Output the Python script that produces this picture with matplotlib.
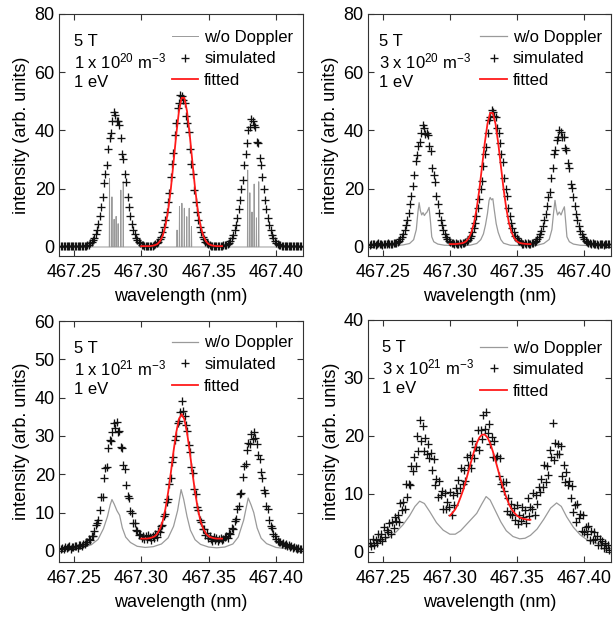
import matplotlib.pyplot as plt
import numpy as np
from matplotlib.ticker import FormatStrFormatter

plt.rcParams['font.family'] = ['Liberation Sans', 'DejaVu Sans']
plt.rcParams['mathtext.fontset'] = 'custom'
plt.rcParams['mathtext.rm'] = 'Liberation Sans'
plt.rcParams['mathtext.it'] = 'Liberation Sans:italic'
plt.rcParams['mathtext.bf'] = 'Liberation Sans:bold'

# sampling of the simulated spectra (nm)
wl_start = 467.2405
wl_step = 0.00103

# simulated spectra (arb. units), one value per sample
sim_1e20 = [0.3, 0.4, 0.2, 0.3, 0.4, 0.3, 0.2, 0.4, 0.3, 0.3, 0.2, 0.4, 0.3, 0.3, 0.4, 0.2, 0.3, 0.4, 0.3,
            0.6, 0.8, 1.2, 1.6, 2.3, 3.2, 4.4, 6.0, 8.0, 10.6, 13.6, 17.0, 21.9, 25.1, 28.1, 33.5, 37.3, 39.2,
            43.1, 46.2, 45.3, 43.2, 43.1, 41.8, 37.3, 31.9, 30.1, 25.1, 22.3, 17.0, 13.6, 10.6, 8.0, 6.0, 4.4,
            3.2, 2.3, 1.6, 1.2, 0.8, 0.6,
            0.4, 0.3, 0.4, 0.3, 0.4, 0.5, 0.4,
            0.7, 0.9, 1.3, 1.8, 2.6, 3.6, 5.0, 6.8, 9.2, 12.0, 15.5, 18.4, 23.9, 28.6, 32.2, 38.3, 42.7, 47.6,
            49.3, 52.3, 51.8, 50.4, 49.3, 45.1, 42.7, 39.5, 33.5, 28.6, 25.0, 19.5, 15.5, 12.0, 9.2, 6.8, 5.0,
            3.6, 2.6, 1.8, 1.3, 0.9, 0.7,
            0.4, 0.3, 0.5, 0.4, 0.3, 0.4, 0.3, 0.5, 0.4, 0.6,
            0.6, 0.8, 1.1, 1.5, 2.2, 3.1, 4.2, 5.8, 7.7, 10.1, 13.0, 16.3, 20.0, 23.0, 28.0, 32.0, 35.7, 40.0,
            41.2, 44.1, 43.3, 41.9, 41.2, 36.2, 35.7, 30.5, 28.0, 24.0, 20.0, 16.3, 13.0, 10.1, 7.7, 5.8, 4.2,
            3.1, 2.2, 1.5, 1.1, 0.8, 0.6,
            0.4, 0.3, 0.4, 0.3, 0.2, 0.4, 0.3, 0.3, 0.4, 0.2, 0.3, 0.4, 0.3, 0.2, 0.3]

sim_3e20 = [0.8, 1.0, 0.9, 1.1, 0.7, 1.0, 1.2, 0.9, 1.0, 0.8, 1.1, 1.0, 0.9, 1.2, 1.0, 1.1, 1.0, 1.3, 1.2,
            1.5, 1.8, 2.2, 2.8, 3.5, 4.5, 5.8, 7.4, 9.4, 11.8, 14.6, 17.6, 21.0, 24.6, 29.5, 31.5, 34.6, 36.0,
            39.3, 41.8, 41.0, 38.7, 39.3, 38.5, 34.6, 32.9, 27.0, 24.6, 22.3, 17.6, 14.6, 11.8, 9.4, 7.4, 5.8,
            4.5, 3.5, 2.8, 2.2, 1.8, 1.5,
            1.2, 1.0, 1.3, 1.1, 0.9, 1.2, 1.0, 1.3, 1.2,
            1.6, 1.9, 2.4, 3.0, 3.9, 5.0, 6.5, 8.3, 10.6, 13.3, 16.4, 19.9, 22.6, 27.8, 31.8, 34.4, 39.3, 43.5,
            44.6, 47.2, 46.5, 45.1, 44.6, 41.0, 39.3, 35.7, 31.8, 29.2, 23.8, 19.9, 17.5, 13.3, 10.6, 8.3, 6.5,
            5.0, 3.9, 3.0, 2.4, 1.9, 1.6,
            1.1, 0.9, 1.2, 1.0, 1.3, 1.1, 1.0, 1.2,
            1.5, 1.8, 2.2, 2.7, 3.4, 4.4, 5.6, 7.2, 9.1, 11.4, 14.1, 17.0, 18.9, 23.7, 27.1, 31.8, 33.4, 36.9,
            37.9, 40.2, 39.5, 37.6, 37.9, 34.0, 33.4, 28.9, 27.1, 21.5, 20.3, 17.0, 14.1, 11.4, 9.1, 7.2, 5.6,
            4.4, 3.4, 2.7, 2.2, 1.8, 1.5,
            1.3, 1.0, 1.2, 0.9, 1.1, 1.0, 0.8, 1.1, 0.9, 1.0, 0.8, 0.9, 1.0, 1.1, 0.9]

sim_1e21 = [0.5, 0.8, 0.4, 1.0, 0.7, 0.9, 1.3, 0.6, 1.1, 0.9, 1.4, 1.2, 0.8, 1.5,
            1.6, 1.3, 1.9, 1.7, 2.2,
            2.3, 3.1, 2.9, 3.8, 4.0, 5.3,
            6.8, 7.3, 8.1, 10.7, 14.0, 14.1, 18.9, 21.7, 22.0, 26.9, 29.0, 28.8, 31.0, 33.5, 32.2, 33.6, 30.9,
            31.4, 27.2, 26.9, 22.3, 21.4, 17.2, 14.2, 13.9, 10.3, 9.9, 7.3, 7.4, 5.5, 5.2, 4.1, 4.3, 3.4, 3.9,
            3.2,
            3.8, 3.1, 4.2, 3.5, 2.9, 3.9, 3.4,
            4.3, 3.7, 5.1, 4.8, 6.6, 6.7, 9.0, 9.6, 12.8, 13.5, 17.4, 19.0, 23.1, 24.6, 28.9, 30.1, 33.4, 34.0,
            36.2, 39.0, 36.5, 35.2, 32.9, 31.2, 27.6, 25.9, 21.8, 20.3, 16.2, 14.9, 11.5, 10.6, 8.1, 7.5, 5.8,
            5.6, 4.2, 4.7, 3.4, 4.0,
            3.1, 2.7, 3.5, 2.9, 3.3, 2.6, 3.0, 3.4, 2.8, 3.2, 3.5,
            3.9, 3.3, 4.6, 4.3, 5.9, 5.6, 7.9, 8.2, 10.9, 11.6, 14.8, 15.1, 19.4, 22.1, 22.6, 26.4, 28.1, 28.0,
            30.5, 29.3, 31.0, 29.4, 27.8, 24.9, 23.9, 20.5, 18.9, 16.0, 15.2, 11.8, 10.9, 8.0, 6.4, 5.9, 4.4,
            3.8, 3.1, 2.7, 2.4,
            2.3, 1.9, 2.1, 1.6, 1.8, 1.3, 1.5, 1.1, 1.2, 0.8, 1.0, 0.7, 0.5, 0.8, 0.4, 0.6]

sim_3e21 = [1.5, 0.9, 2.1, 1.2, 2.0, 1.4, 3.0, 2.2, 3.0, 1.9, 4.2, 2.6, 3.7, 3.3, 4.9, 3.0, 5.1, 4.1, 6.0,
            5.2, 6.4, 5.1, 8.4, 7.1, 8.5, 7.3, 11.6, 9.4, 11.7, 11.5, 14.8, 14.0, 16.4, 14.8, 20.0, 17.3, 22.7,
            19.1, 21.7, 17.3, 19.7, 16.9, 18.5, 16.2, 17.0, 14.1, 16.0, 11.5, 12.6, 9.4, 12.2, 9.7, 10.4, 7.3,
            10.1, 7.4, 8.6, 7.7, 10.3, 6.3, 9.7, 8.1, 11.0, 10.1, 12.3, 11.0, 14.5, 11.6, 14.1, 12.2, 16.3,
            14.9, 16.7, 14.5, 19.1, 16.2, 18.1, 18.0, 21.0, 17.5, 21.0, 19.4, 23.6, 21.1, 24.1, 20.5, 22.0,
            18.6, 19.8, 16.4, 19.1, 16.2, 16.5, 13.0, 16.1, 11.6, 12.1, 10.4, 12.0, 7.0, 9.2, 6.5, 8.2, 6.3,
            7.6, 5.4, 8.0, 4.8, 6.3, 5.2, 7.7, 5.9, 7.2, 4.9, 9.3, 6.1, 7.7, 7.3, 10.1, 6.4, 9.8, 8.2, 11.2,
            10.3, 12.6, 11.2, 14.9, 12.1, 14.8, 13.2, 17.5, 16.3, 22.2, 15.9, 18.7, 16.9, 18.5, 16.9, 18.3,
            13.1, 15.0, 12.1, 13.7, 11.5, 12.2, 9.3, 11.3, 6.9, 8.0, 5.1, 8.2, 5.8, 6.5, 3.5, 6.3, 3.4, 4.3,
            3.1, 4.4, 2.0, 3.5, 2.0, 3.4, 2.1, 2.7, 1.2, 2.2, 1.1, 1.9, 0.65, 1.4, 0.6, 1.15, 0.3]

# calculation without Doppler broadening
# 1e20: narrow Zeeman components (wavelength, height)
spike_wl = [467.2765, 467.2783, 467.2799, 467.2814, 467.2829, 467.2849, 467.2867,
            467.3266, 467.3284, 467.3302, 467.3320, 467.3338, 467.3356, 467.3373,
            467.3790, 467.3806, 467.3822, 467.3838, 467.3855, 467.3872]
spike_h = [23.5, 17.2, 9.5, 10.5, 8.0, 19.5, 22.4,
           5.8, 13.9, 15.0, 13.3, 10.4, 13.3, 7.0,
           26.4, 18.6, 12.0, 21.6, 10.0, 22.4]

nodop2_wl = [467.2390, 467.2550, 467.2650, 467.2700, 467.2730, 467.2750, 467.2762, 467.2771, 467.2780,
             467.2790, 467.2800, 467.2810, 467.2820, 467.2830, 467.2845, 467.2855, 467.2865, 467.2880,
             467.2910, 467.2960, 467.3050, 467.3150, 467.3200, 467.3230, 467.3250, 467.3265, 467.3280,
             467.3292, 467.3300, 467.3310, 467.3320, 467.3330, 467.3345, 467.3360, 467.3380, 467.3400,
             467.3450, 467.3600, 467.3650, 467.3700, 467.3740, 467.3760, 467.3773, 467.3783, 467.3792,
             467.3802, 467.3815, 467.3828, 467.3840, 467.3853, 467.3862, 467.3872, 467.3890, 467.3920,
             467.3970, 467.4100, 467.4200]
nodop2 = [0.3, 0.4, 0.7, 1.2, 2.5, 6.0, 12.0, 15.2, 12.5, 11.0, 11.8, 10.8, 11.5, 12.0, 13.6, 9.0, 3.5,
          1.8, 1.0, 0.6, 0.5, 0.6, 1.2, 2.5, 4.5, 7.5, 11.5, 16.0, 17.0, 16.2, 16.6, 13.0, 8.0, 5.0, 2.5,
          1.3, 0.6, 0.4, 0.6, 1.2, 2.6, 6.0, 12.0, 16.0, 13.0, 11.0, 12.0, 11.0, 12.5, 13.8, 9.0, 3.5, 1.8,
          1.0, 0.6, 0.4, 0.3]

nodop3_wl = [467.2390, 467.2500, 467.2580, 467.2630, 467.2680, 467.2720, 467.2750, 467.2770, 467.2783,
             467.2800, 467.2820, 467.2840, 467.2860, 467.2885, 467.2920, 467.2970, 467.3030, 467.3090,
             467.3150, 467.3200, 467.3240, 467.3270, 467.3296, 467.3315, 467.3340, 467.3365, 467.3400,
             467.3440, 467.3500, 467.3560, 467.3620, 467.3680, 467.3720, 467.3760, 467.3794, 467.3815,
             467.3835, 467.3860, 467.3890, 467.3930, 467.4000, 467.4100, 467.4200]
nodop3 = [0.4, 0.6, 1.0, 1.6, 3.0, 5.8, 9.0, 12.0, 13.4, 12.2, 10.5, 9.3, 6.0, 3.6, 2.2, 1.2, 0.9, 1.1,
          1.8, 3.4, 6.4, 10.5, 16.0, 13.5, 9.0, 5.4, 2.9, 1.7, 1.0, 0.8, 1.0, 1.8, 3.6, 8.0, 13.8, 12.0,
          10.0, 6.0, 3.3, 1.9, 0.9, 0.5, 0.35]

nodop4_wl = [467.2390, 467.2450, 467.2500, 467.2550, 467.2600, 467.2650, 467.2700, 467.2740, 467.2775,
             467.2810, 467.2850, 467.2900, 467.2950, 467.3000, 467.3040, 467.3080, 467.3120, 467.3160,
             467.3200, 467.3240, 467.3270, 467.3300, 467.3340, 467.3380, 467.3420, 467.3470, 467.3520,
             467.3560, 467.3600, 467.3650, 467.3700, 467.3750, 467.3795, 467.3830, 467.3870, 467.3920,
             467.3970, 467.4030, 467.4100, 467.4200]
nodop4 = [1.1, 1.4, 1.9, 2.5, 3.4, 4.6, 6.2, 7.8, 8.7, 8.3, 6.9, 5.0, 3.7, 3.0, 3.0, 3.6, 4.6, 5.6, 6.6,
          8.3, 9.5, 8.9, 7.0, 5.1, 3.6, 2.6, 2.2, 2.3, 2.8, 3.9, 5.6, 7.5, 8.4, 7.8, 6.0, 4.2, 2.9, 1.9,
          1.4, 1.0]

# fitted profiles, 467.300 - 467.360 nm in 0.002 nm steps
fit_wl = [467.300, 467.302, 467.304, 467.306, 467.308, 467.310, 467.312, 467.314, 467.316, 467.318,
          467.320, 467.322, 467.324, 467.326, 467.328, 467.330, 467.332, 467.334, 467.336, 467.338,
          467.340, 467.342, 467.344, 467.346, 467.348, 467.350, 467.352, 467.354, 467.356, 467.358, 467.360]
fit_1e20 = [0.3, 0.3, 0.3, 0.3, 0.4, 0.6, 1.0, 2.0, 3.9, 7.3, 12.6, 20.0, 29.1, 38.6, 46.6, 51.2, 51.2,
            46.6, 38.6, 29.1, 20.0, 12.6, 7.3, 3.9, 2.0, 1.0, 0.6, 0.4, 0.3, 0.3, 0.3]
fit_3e20 = [1.0, 1.0, 1.0, 1.1, 1.2, 1.4, 1.9, 3.0, 5.0, 8.3, 13.3, 19.9, 27.8, 35.7, 42.3, 46.0, 46.0,
            42.3, 35.7, 27.8, 19.9, 13.3, 8.3, 5.0, 3.0, 1.9, 1.4, 1.2, 1.1, 1.0, 1.0]
fit_1e21 = [3.2, 3.2, 3.2, 3.3, 3.5, 3.8, 4.5, 5.8, 7.8, 11.0, 15.3, 20.4, 26.0, 30.9, 34.4, 35.7, 34.4,
            30.9, 26.0, 20.4, 15.3, 11.0, 7.8, 5.8, 4.5, 3.8, 3.5, 3.3, 3.2, 3.2, 3.2]
fit_3e21 = [6.2, 6.7, 7.3, 8.2, 9.4, 10.7, 12.3, 14.0, 15.7, 17.3, 18.7, 19.7, 20.2, 20.2, 19.7, 18.7,
            17.3, 15.7, 14.0, 12.3, 10.7, 9.4, 8.2, 7.3, 6.7, 6.2, 5.9, 5.7, 5.6, 5.5, 5.5]

dens_labels = ['1 x 10$^{20}$ m$^{-3}$', '3 x 10$^{20}$ m$^{-3}$',
               '1 x 10$^{21}$ m$^{-3}$', '3 x 10$^{21}$ m$^{-3}$']
sims = [sim_1e20, sim_3e20, sim_1e21, sim_3e21]
fits = [fit_1e20, fit_3e20, fit_1e21, fit_3e21]
ymax = [80, 80, 60, 40]
ystep = [20, 20, 10, 10]
ymin = [-3.1, -3.1, -2.9, -1.8]

# build the 1e20 stick spectrum from the component list
sx = [467.2390]
sy = [0.0]
for w, h in zip(spike_wl, spike_h):
    sx += [w - 0.0002, w, w + 0.0002]
    sy += [0.0, h, 0.0]
sx.append(467.4200)
sy.append(0.0)
nodops = [(sx, sy), (nodop2_wl, nodop2), (nodop3_wl, nodop3), (nodop4_wl, nodop4)]

boxes = [[0.0962, 0.5864, 0.398, 0.391], [0.6003, 0.5864, 0.3964, 0.391],
         [0.0962, 0.0921, 0.398, 0.3893], [0.6003, 0.0921, 0.3964, 0.391]]
text_x = [0.061, 0.045, 0.061, 0.056]
leg_y = [0.935, 0.935, 0.94, 0.915]
gray_lw = [0.7, 0.9, 0.9, 0.9]

fig = plt.figure(figsize=(6.13, 6.19), dpi=100)

for k in range(4):
    ax = fig.add_axes(boxes[k])
    wl = wl_start + wl_step * np.arange(len(sims[k]))

    h1, = ax.plot(nodops[k][0], nodops[k][1], color='#9a9a9a', lw=gray_lw[k], label='w/o Doppler')
    h2, = ax.plot(wl, sims[k], '+', color='#111111', ms=5.5, mew=0.95, label='simulated')
    h3, = ax.plot(fit_wl, fits[k], color='#ff1a1a', lw=1.3, label='fitted')

    ax.set_xlim(467.239, 467.420)
    ax.set_ylim(ymin[k], ymax[k])
    ax.set_xticks([467.25, 467.30, 467.35, 467.40])
    ax.set_yticks(np.arange(0, ymax[k] + 1, ystep[k]))
    ax.xaxis.set_major_formatter(FormatStrFormatter('%.2f'))
    ax.tick_params(direction='in', top=True, right=True, length=4, width=0.8,
                   labelsize=13, color='#333333')
    ax.tick_params(axis='x', pad=6)
    ax.tick_params(axis='y', pad=3)
    for s in ax.spines.values():
        s.set_linewidth(0.8)
        s.set_color('#333333')

    ax.set_xlabel('wavelength (nm)', fontsize=13, labelpad=5)
    ax.set_ylabel('intensity (arb. units)', fontsize=13, labelpad=3)

    ax.text(text_x[k], 0.886, '5 T', transform=ax.transAxes, fontsize=12, va='center')
    ax.text(text_x[k], 0.805, dens_labels[k], transform=ax.transAxes, fontsize=12, va='center')
    ax.text(text_x[k], 0.715, '1 eV', transform=ax.transAxes, fontsize=12, va='center')

    ax.legend(handles=[h1, h2, h3], loc='upper left', bbox_to_anchor=(0.462, leg_y[k]),
              frameon=False, fontsize=12, handlelength=1.6, handletextpad=0.35,
              labelspacing=0.4, borderpad=0, borderaxespad=0, numpoints=1)

fig.savefig('out.png', dpi=100)
